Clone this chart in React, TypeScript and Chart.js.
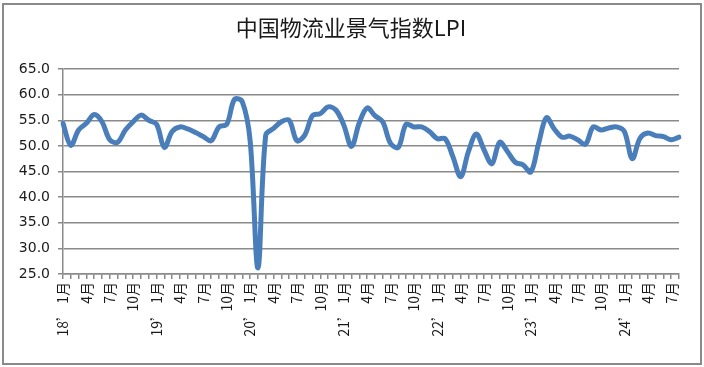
import React, { useEffect, useRef } from 'react';
import { Chart, registerables } from 'chart.js';

Chart.register(...registerables);

const TITLE = '中国物流业景气指数LPI';

// Monthly LPI, 2018-01 .. 2024-08
const lpi2018 = [54.4, 50.1, 53.1, 54.4, 56.1, 54.7, 51.2, 50.7, 53.1, 54.7, 56.0, 55.0];
const lpi2019 = [54.2, 49.7, 52.8, 53.7, 53.3, 52.6, 51.8, 51.0, 53.7, 54.2, 59.1, 58.6];
const lpi2020 = [51.0, 26.2, 52.1, 53.4, 54.7, 55.0, 51.0, 52.1, 55.9, 56.3, 57.6, 57.0];
const lpi2021 = [54.1, 49.9, 54.5, 57.4, 55.9, 54.7, 50.5, 49.7, 54.2, 53.7, 53.7, 52.8];
const lpi2022 = [51.4, 51.4, 47.9, 44.0, 48.9, 52.3, 49.2, 46.5, 50.7, 48.9, 46.8, 46.3];
const lpi2023 = [44.9, 50.5, 55.5, 53.3, 51.7, 51.9, 51.2, 50.3, 53.7, 53.1, 53.5, 53.7];
const lpi2024 = [52.8, 47.5, 51.5, 52.5, 52.0, 51.8, 51.2, 51.7];

const lpiValues = [...lpi2018, ...lpi2019, ...lpi2020, ...lpi2021, ...lpi2022, ...lpi2023, ...lpi2024];

// Category tick labels (every third month labelled)
const yearLabel = (yy: string) => [`${yy}’ 1月`, '', '', '4月', '', '', '7月', '', '', '10月', '', ''];
const labels2018 = yearLabel('18');
const labels2019 = yearLabel('19');
const labels2020 = yearLabel('20');
const labels2021 = yearLabel('21');
const labels2022 = yearLabel('22');
const labels2023 = yearLabel('23');
const labels2024 = ["24’ 1月", '', '', '4月', '', '', '7月', ''];
const xLabels = [...labels2018, ...labels2019, ...labels2020, ...labels2021, ...labels2022, ...labels2023, ...labels2024];

const yMin = 25;
const yMax = 65;
const yStep = 5;

const framePlugin = {
  id: 'frame',
  beforeDraw(chart: any) {
    const ctx = chart.ctx;
    ctx.save();
    ctx.fillStyle = '#ffffff';
    ctx.fillRect(0, 0, chart.width, chart.height);
    ctx.strokeStyle = '#8a8a8a';
    ctx.lineWidth = 2;
    ctx.strokeRect(3, 4, chart.width - 6, chart.height - 7);
    ctx.restore();
  },
  afterDraw(chart: any) {
    const ctx = chart.ctx;
    ctx.save();
    ctx.fillStyle = '#1a1a1a';
    ctx.font = '22px "Noto Sans CJK SC", "Noto Sans", sans-serif';
    ctx.textAlign = 'center';
    ctx.textBaseline = 'middle';
    ctx.fillText(TITLE, 351, 28);
    ctx.restore();
  },
};

export default function App() {
  const ref = useRef<HTMLCanvasElement>(null);
  useEffect(() => {
    document.body.style.margin = '0';
    const chart = new Chart(ref.current as HTMLCanvasElement, {
      type: 'line',
      data: {
        labels: xLabels,
        datasets: [
          {
            data: lpiValues,
            borderColor: '#4A7EBB',
            borderWidth: 5,
            pointRadius: 0,
            tension: 0.35,
            fill: false,
            borderCapStyle: 'round',
            borderJoinStyle: 'round',
          },
        ],
      },
      options: {
        responsive: false,
        animation: false,
        layout: { padding: { top: 69, right: 25, left: 0, bottom: 0 } },
        plugins: {
          legend: { display: false },
          tooltip: { enabled: false },
          title: { display: false },
        },
        scales: {
          x: {
            offset: false,
            grid: {
              display: true,
              drawOnChartArea: false,
              drawTicks: true,
              tickLength: 5,
              color: '#8a8a8a',
              lineWidth: 1.5,
            },
            border: { display: true, color: '#8a8a8a', width: 1.5 },
            ticks: {
              autoSkip: false,
              maxRotation: 90,
              minRotation: 90,
              padding: 3,
              color: '#1a1a1a',
              font: { family: '"Noto Sans CJK SC", sans-serif', size: 14 },
            },
            afterFit: (s: any) => {
              s.height = 93;
            },
          },
          y: {
            min: yMin,
            max: yMax,
            ticks: {
              stepSize: yStep,
              padding: 8,
              color: '#1a1a1a',
              font: { family: '"DejaVu Sans", sans-serif', size: 14 },
              callback: (v: any) => Number(v).toFixed(1),
            },
            grid: { color: '#8a8a8a', lineWidth: 1.5, tickLength: 5 },
            border: { display: true, color: '#8a8a8a', width: 1.5 },
            afterFit: (s: any) => {
              s.width = 63;
            },
          },
        },
      },
      plugins: [framePlugin],
    });
    return () => chart.destroy();
  }, []);
  return <canvas ref={ref} width={704} height={367} style={{ display: 'block' }} />;
}
